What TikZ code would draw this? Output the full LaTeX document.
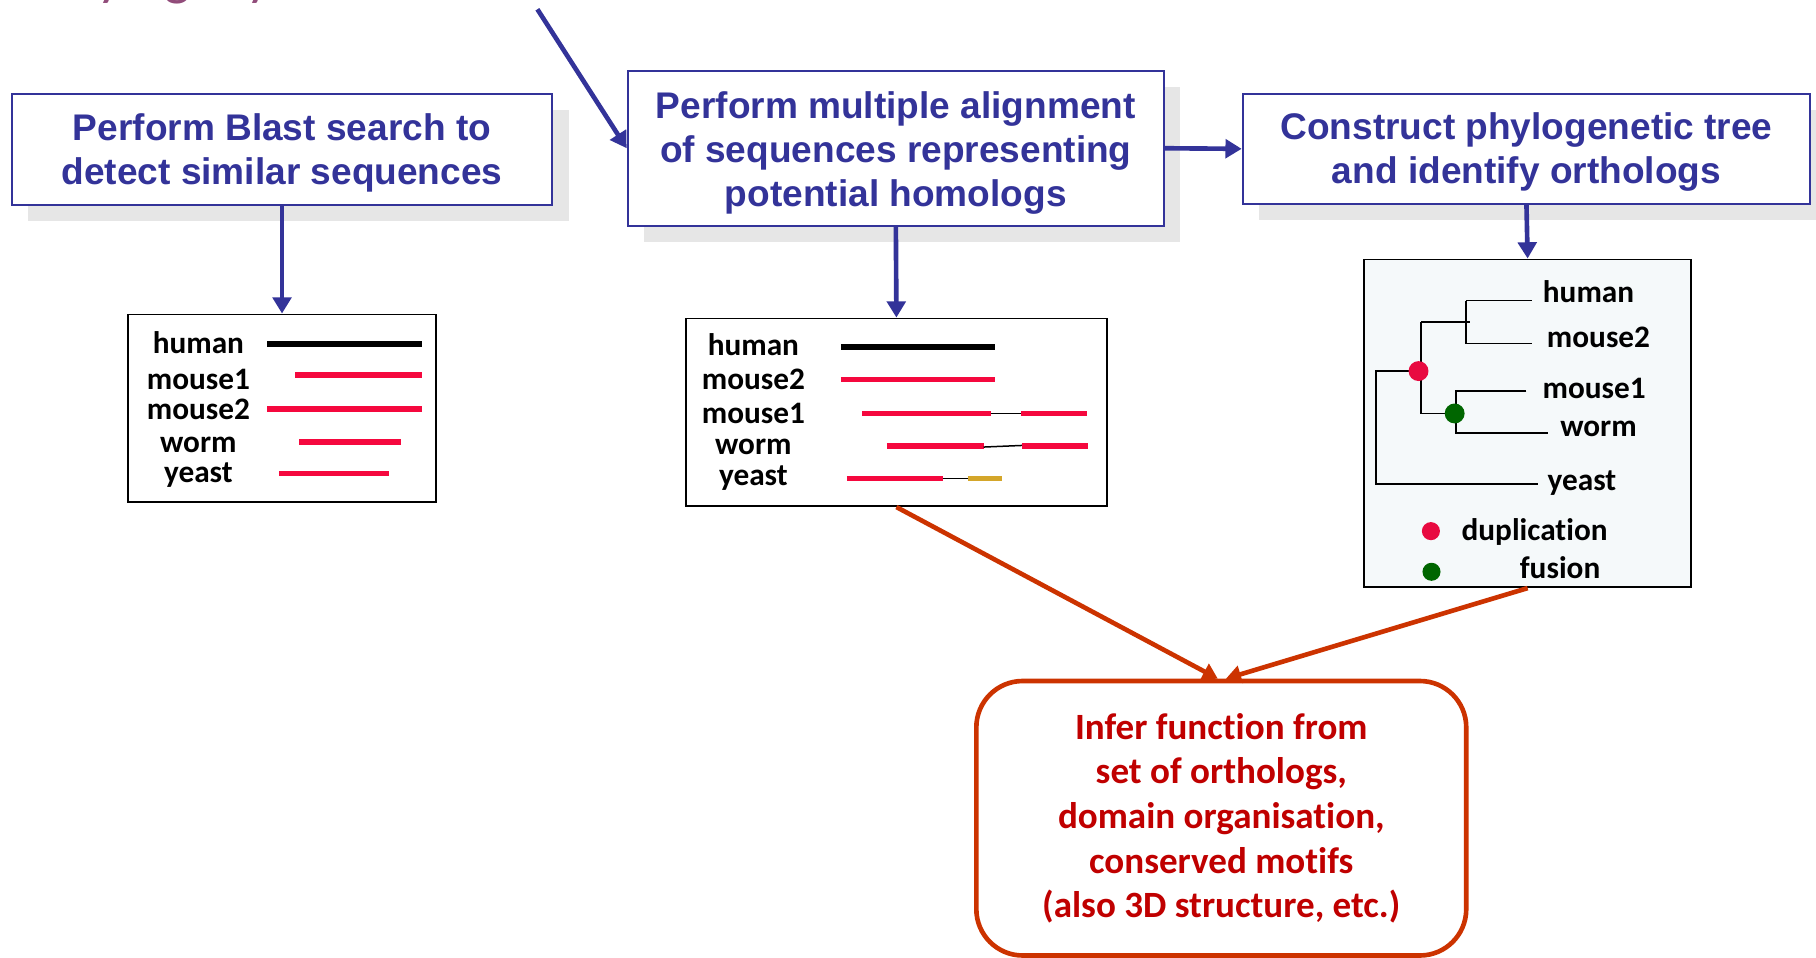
\documentclass[tikz,border=0pt]{standalone}
\usepackage{fontspec}
\setmainfont{Carlito}[Ligatures=NoCommon]
\newfontfamily\arialf{Liberation Sans}
\usetikzlibrary{arrows.meta,shadows}
\definecolor{pblue}{RGB}{51,51,153}
\definecolor{shadowgray}{RGB}{230,230,230}
\definecolor{seqred}{RGB}{245,8,62}
\definecolor{seqgold}{RGB}{212,166,42}
\definecolor{dupred}{RGB}{232,10,64}
\definecolor{fusgreen}{RGB}{0,102,0}
\definecolor{panelfill}{RGB}{245,249,250}
\definecolor{outorange}{RGB}{204,51,0}
\definecolor{outtext}{RGB}{192,0,0}
\definecolor{mauve}{RGB}{145,76,122}
\begin{document}
\begin{tikzpicture}[x=1pt,y=-1pt,
  stepbox/.style={draw=pblue, line width=1.8pt, fill=white, inner sep=0pt,
    drop shadow={shadow xshift=14pt, shadow yshift=-14pt, fill=shadowgray, opacity=1}},
  steptext/.style={align=center, font=\arialf\bfseries\fontsize{32}{38}\selectfont,
    text=pblue, inner sep=0pt},
  panel/.style={draw=black, line width=1.6pt, fill=white, inner sep=0pt},
  lbl/.style={font=\bfseries\fontsize{27}{30}\selectfont, anchor=base, inner sep=0pt},
  bar/.style={line width=4.8pt},
  link/.style={line width=1.3pt},
  tree/.style={line width=1.4pt},
  blueflow/.style={draw=pblue, line width=4pt, -{Triangle[length=14pt,width=16pt]}},
  redflow/.style={draw=outorange, line width=4pt, -{Triangle[length=13pt,width=15pt]}},
  outbox/.style={draw=outorange, line width=4pt, fill=white, rounded corners=40pt,
    align=center, text=outtext, font=\bfseries\fontsize{32}{38.5}\selectfont, inner sep=0pt}
]
\useasboundingbox (0,0) rectangle (1568,827);

% cut-off title
\node[anchor=base west, text=mauve, font=\fontsize{48}{50}\selectfont, inner sep=0pt] (title) at (35,-5) {Phylogeny};

% step boxes
\node[stepbox, minimum width=467pt, minimum height=96pt] (blast) at (243.5,129) {};
\node[steptext] (blasttext) at ([yshift=-3pt]blast.center)
  {Perform Blast search to\\detect similar sequences};
\node[stepbox, minimum width=463pt, minimum height=134pt] (align) at (773.5,128) {};
\node[steptext] (aligntext) at ([yshift=-4pt]align.center)
  {Perform multiple alignment\\of sequences representing\\potential homologs};
\node[stepbox, minimum width=490pt, minimum height=95pt] (tree) at (1318,128.5) {};
\node[steptext] (treetext) at ([yshift=-3pt]tree.center)
  {Construct phylogenetic tree\\and identify orthologs};

% panels
\node[panel, minimum width=266pt, minimum height=162pt] (p1) at (243.5,352.5) {};
\node[panel, minimum width=364pt, minimum height=162pt] (p2) at (774,356) {};
\node[panel, fill=panelfill, minimum width=282pt, minimum height=283pt] (p3) at (1319,365.5) {};

% outcome box
\node[outbox, minimum width=423pt, minimum height=237pt] (infer) at (1054.5,706.5)
  {Infer function from\\set of orthologs,\\domain organisation,\\conserved motifs\\(also 3D structure, etc.)};

% flow arrows
\coordinate (tin) at (464,8);
\draw[blueflow] (tin) -- (align.west);
\draw[blueflow] (align.east) -- (tree.west);
\draw[blueflow] (blast.south) -- (p1.north);
\draw[blueflow] (align.south) -- (p2.north);
\draw[blueflow] (tree.south) -- (p3.north);
\draw[redflow] (p2.south) -- ([xshift=-3pt]infer.north);
\draw[redflow] (p3.south) -- ([xshift=4pt]infer.north);

% panel 1: Blast hits
\node[lbl] (a1) at (171.3,305) {human};
\node[lbl] (a2) at (171.3,336.2) {mouse1};
\node[lbl] (a3) at (171.3,362.1) {mouse2};
\node[lbl] (a4) at (171.3,390.6) {worm};
\node[lbl] (a5) at (171.3,416.8) {yeast};
\draw[bar, black] (230.9,297) -- (364.2,297);
\draw[bar, seqred] (254.8,324) -- (364.2,324);
\draw[bar, seqred] (230.9,353) -- (364.2,353);
\draw[bar, seqred] (258.5,381.7) -- (346,381.7);
\draw[bar, seqred] (241.2,408.7) -- (335.6,408.7);

% panel 2: multiple alignment
\node[lbl] (b1) at (650.5,306.6) {human};
\node[lbl] (b2) at (650.5,336.2) {mouse2};
\node[lbl] (b3) at (650.5,365.6) {mouse1};
\node[lbl] (b4) at (650.5,392) {worm};
\node[lbl] (b5) at (650.5,418.8) {yeast};
\draw[bar, black] (726,299.4) -- (859.2,299.4);
\draw[bar, seqred] (726,327.6) -- (859.2,327.6);
\draw[bar, seqred] (744.7,357.2) -- (855.5,357.2);
\draw[link] (855.5,357.2) -- (881.7,357.2);
\draw[bar, seqred] (881.7,357.2) -- (938.7,357.2);
\draw[bar, seqred] (765.7,385.2) -- (849.2,385.2);
\draw[link] (849.2,386) -- (882.8,384.6);
\draw[bar, seqred] (882.8,385.2) -- (939.8,385.2);
\draw[bar, seqred] (731.2,413.1) -- (814.6,413.1);
\draw[link] (814.6,413.1) -- (835.6,413.1);
\draw[bar, seqgold] (835.6,413.1) -- (865,413.1);

% panel 3: tree
\draw[tree] (1266,259.6) -- (1323,259.6);
\draw[tree] (1266,259.6) -- (1266,296.5) -- (1323,296.5);
\draw[tree] (1227,277.8) -- (1269,277.8);
\draw[tree] (1227,277.8) -- (1227,357) -- (1256,357);
\draw[tree] (1225,320.4) -- (1188,320.4) -- (1188,418) -- (1328,418);
\draw[tree] (1318,337.4) -- (1257,337.4) -- (1257,373.6) -- (1337,373.6);
\fill[dupred] (1224.8,320.4) circle[radius=8.6pt];
\fill[fusgreen] (1256,357) circle[radius=8.6pt];
\node[lbl] (c1) at (1371.6,261.4) {human};
\node[lbl] (c2) at (1380.2,300.2) {mouse2};
\node[lbl] (c3) at (1376.5,344) {mouse1};
\node[lbl] (c4) at (1380.2,377.1) {worm};
\node[lbl] (c5) at (1365.9,423.1) {yeast};
\fill[dupred] (1235.5,458.6) circle[radius=7.8pt];
\fill[fusgreen] (1236,493.7) circle[radius=7.8pt];
\node[lbl] (d1) at (1325,466.3) {duplication};
\node[lbl] (d2) at (1347,499.4) {fusion};
\end{tikzpicture}
\end{document}
